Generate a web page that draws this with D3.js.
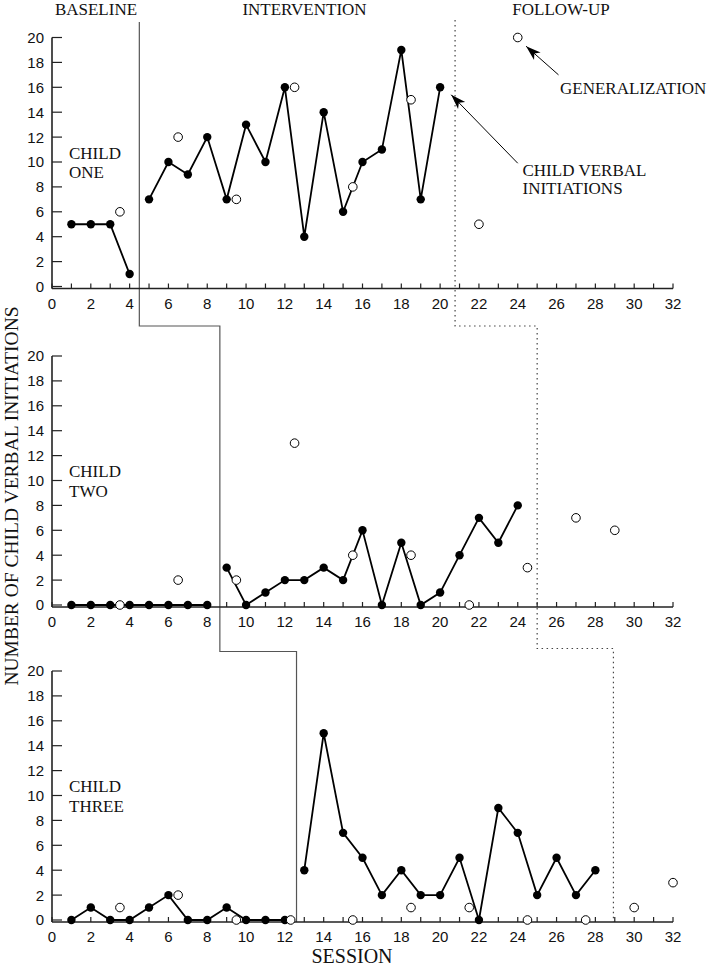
<!DOCTYPE html>
<html>
<head>
<meta charset="utf-8">
<script src="https://cdn.jsdelivr.net/npm/d3@7"></script>
<style>
  html, body { margin: 0; padding: 0; background: #fff; }
  svg { display: block; }
  .serif { font-family: "Liberation Serif", "Times New Roman", serif; fill: #111; }
  .tick text { font-family: "Liberation Sans", Arial, sans-serif; font-size: 15px; fill: #111; }
</style>
</head>
<body>
<svg id="chart" width="709" height="966"></svg>
<script>
// ---------------- DATA ----------------
const phaseNames = ["BASELINE", "INTERVENTION", "FOLLOW-UP"];
const childNames = [["CHILD", "ONE"], ["CHILD", "TWO"], ["CHILD", "THREE"]];

// Child One
const c1BaseSessions = [1, 2, 3, 4];
const c1BaseValues   = [5, 5, 5, 1];
const c1IntSessions  = [5, 6, 7, 8, 9, 10, 11, 12, 13, 14, 15, 16, 17, 18, 19, 20];
const c1IntValues    = [7, 10, 9, 12, 7, 13, 10, 16, 4, 14, 6, 10, 11, 19, 7, 16];
const c1GenSessions  = [3.5, 6.5, 9.5, 12.5, 15.5, 18.5, 22, 24];
const c1GenValues    = [6, 12, 7, 16, 8, 15, 5, 20];

// Child Two
const c2BaseSessions = [1, 2, 3, 4, 5, 6, 7, 8];
const c2BaseValues   = [0, 0, 0, 0, 0, 0, 0, 0];
const c2IntSessions  = [9, 10, 11, 12, 13, 14, 15, 16, 17, 18, 19, 20, 21, 22, 23, 24];
const c2IntValues    = [3, 0, 1, 2, 2, 3, 2, 6, 0, 5, 0, 1, 4, 7, 5, 8];
const c2GenSessions  = [3.5, 6.5, 9.5, 12.5, 15.5, 18.5, 21.5, 24.5, 27, 29];
const c2GenValues    = [0, 2, 2, 13, 4, 4, 0, 3, 7, 6];

// Child Three
const c3BaseSessions = [1, 2, 3, 4, 5, 6, 7, 8, 9, 10, 11, 12];
const c3BaseValues   = [0, 1, 0, 0, 1, 2, 0, 0, 1, 0, 0, 0];
const c3IntSessions  = [13, 14, 15, 16, 17, 18, 19, 20, 21, 22, 23, 24, 25, 26, 27, 28];
const c3IntValues    = [4, 15, 7, 5, 2, 4, 2, 2, 5, 0, 9, 7, 2, 5, 2, 4];
const c3GenSessions  = [3.5, 6.5, 9.5, 12.3, 15.5, 18.5, 21.5, 24.5, 27.5, 30, 32];
const c3GenValues    = [1, 2, 0, 0, 0, 1, 1, 0, 0, 1, 3];

// phase change lines (session positions per child)
const interventionStart = [4.5, 8.65, 12.6];
const followUpStart     = [20.77, 25.0, 28.93];

const xTickValues = d3.range(0, 33, 2);
const xMinorTicks = d3.range(0, 33, 1);
const yTickValues = d3.range(0, 21, 2);

// ---------------- LAYOUT ----------------
const svg = d3.select("#chart");
const x = d3.scaleLinear().domain([0, 32]).range([52, 673]);
const panelTop = [37.5, 356, 671];
const panelH = 249;
const axisGap = 2;

const children = [
  { base: [c1BaseSessions, c1BaseValues], int: [c1IntSessions, c1IntValues], gen: [c1GenSessions, c1GenValues] },
  { base: [c2BaseSessions, c2BaseValues], int: [c2IntSessions, c2IntValues], gen: [c2GenSessions, c2GenValues] },
  { base: [c3BaseSessions, c3BaseValues], int: [c3IntSessions, c3IntValues], gen: [c3GenSessions, c3GenValues] }
];
const yScales = panelTop.map(t => d3.scaleLinear().domain([0, 20]).range([t + panelH, t]));

// phase change lines
const stepY = [326, 651.5];
const stepYDot = [326, 648.5];
function stepPath(xs, ys, top, bottom) {
  return [
    [x(xs[0]), top], [x(xs[0]), ys[0]], [x(xs[1]), ys[0]],
    [x(xs[1]), ys[1]], [x(xs[2]), ys[1]], [x(xs[2]), bottom]
  ];
}
const lineGen = d3.line();
svg.append("path")
  .attr("d", lineGen(stepPath(interventionStart, stepY, 22, yScales[2](0) + axisGap)))
  .attr("fill", "none").attr("stroke", "#555").attr("stroke-width", 1.2);
svg.append("path")
  .attr("d", lineGen(stepPath(followUpStart, stepYDot, 20, yScales[2](0) + axisGap)))
  .attr("fill", "none").attr("stroke", "#444").attr("stroke-width", 1.2)
  .attr("stroke-dasharray", "1.5,3.5");

// phase headers
const headerX = [96, 304.5, 561];
phaseNames.forEach((p, i) => {
  svg.append("text").attr("class", "serif")
    .attr("x", headerX[i]).attr("y", 14.5)
    .attr("text-anchor", "middle").attr("font-size", 17).text(p);
});

children.forEach((c, i) => {
  const y = yScales[i];
  const g = svg.append("g");
  const y0 = y(0) + axisGap;

  // x axis
  g.append("line").attr("x1", x(0)).attr("x2", x(32)).attr("y1", y0).attr("y2", y0)
    .attr("stroke", "#222").attr("stroke-width", 1.6);
  const xt = g.append("g").attr("class", "tick");
  xt.selectAll("line").data(xMinorTicks).join("line")
    .attr("x1", d => x(d)).attr("x2", d => x(d))
    .attr("y1", y0).attr("y2", y0 - 5)
    .attr("stroke", "#222").attr("stroke-width", 1.2);
  xt.selectAll("text").data(xTickValues).join("text")
    .attr("x", d => x(d)).attr("y", y0 + 20)
    .attr("text-anchor", "middle").text(d => d);

  // y axis
  g.append("line").attr("x1", x(0)).attr("x2", x(0)).attr("y1", y(20)).attr("y2", y0)
    .attr("stroke", "#222").attr("stroke-width", 1.6);
  const yt = g.append("g").attr("class", "tick");
  yt.selectAll("line").data(yTickValues).join("line")
    .attr("x1", x(0)).attr("x2", x(0) + 10)
    .attr("y1", d => y(d)).attr("y2", d => y(d))
    .attr("stroke", "#222").attr("stroke-width", 1.2);
  yt.selectAll("text").data(yTickValues).join("text")
    .attr("x", 44).attr("y", d => y(d)).attr("dy", "0.36em")
    .attr("text-anchor", "end").text(d => d);

  // child label
  childNames[i].forEach((t, k) => {
    g.append("text").attr("class", "serif").attr("font-size", 17)
      .attr("x", 69).attr("y", y(20) + 121 + k * 19.5).text(t);
  });

  // connected series
  const line = d3.line().x(d => x(d[0])).y(d => y(d[1]));
  [c.base, c.int].forEach(s => {
    const pts = s[0].map((v, k) => [v, s[1][k]]);
    g.append("path").attr("d", line(pts)).attr("fill", "none")
      .attr("stroke", "#000").attr("stroke-width", 1.8);
    g.selectAll(null).data(pts).join("circle")
      .attr("cx", d => x(d[0])).attr("cy", d => y(d[1])).attr("r", 4.2)
      .attr("fill", "#000");
  });

  // generalization (open circles)
  const gp = c.gen[0].map((v, k) => [v, c.gen[1][k]]);
  g.selectAll(null).data(gp).join("circle")
    .attr("cx", d => x(d[0])).attr("cy", d => y(d[1])).attr("r", 4.3)
    .attr("fill", "#fff").attr("stroke", "#000").attr("stroke-width", 1);
});

// annotations with arrows (top panel)
const yTop = yScales[0];
svg.append("defs").append("marker")
  .attr("id", "arrow").attr("viewBox", "-16 -6 18 12")
  .attr("refX", 0).attr("refY", 0)
  .attr("markerWidth", 18).attr("markerHeight", 12)
  .attr("markerUnits", "userSpaceOnUse")
  .attr("orient", "auto")
  .append("path").attr("d", "M0,0 L-15,-5 L-11,0 L-15,5 Z").attr("fill", "#000");

const annotations = [
  { tail: [26.1, 17.0], tip: [24.43, 19.3], text: ["GENERALIZATION"], tx: 560, ty: 94.3 },
  { tail: [24.0, 9.9], tip: [20.57, 15.4], text: ["CHILD VERBAL", "INITIATIONS"], tx: 522.5, ty: 175.7 }
];
annotations.forEach(a => {
  svg.append("line")
    .attr("x1", x(a.tail[0])).attr("y1", yTop(a.tail[1]))
    .attr("x2", x(a.tip[0])).attr("y2", yTop(a.tip[1]))
    .attr("stroke", "#000").attr("stroke-width", 1)
    .attr("marker-end", "url(#arrow)");
  a.text.forEach((t, k) => {
    svg.append("text").attr("class", "serif").attr("font-size", 17)
      .attr("x", a.tx).attr("y", a.ty + k * 18.6).text(t);
  });
});

// axis titles
svg.append("text").attr("class", "serif").attr("font-size", 19.5)
  .attr("text-anchor", "middle")
  .attr("transform", "translate(18,496) rotate(-90)")
  .text("NUMBER OF CHILD VERBAL INITIATIONS");
svg.append("text").attr("class", "serif").attr("font-size", 20)
  .attr("text-anchor", "middle")
  .attr("x", 352).attr("y", 963).text("SESSION");
</script>
</body>
</html>
